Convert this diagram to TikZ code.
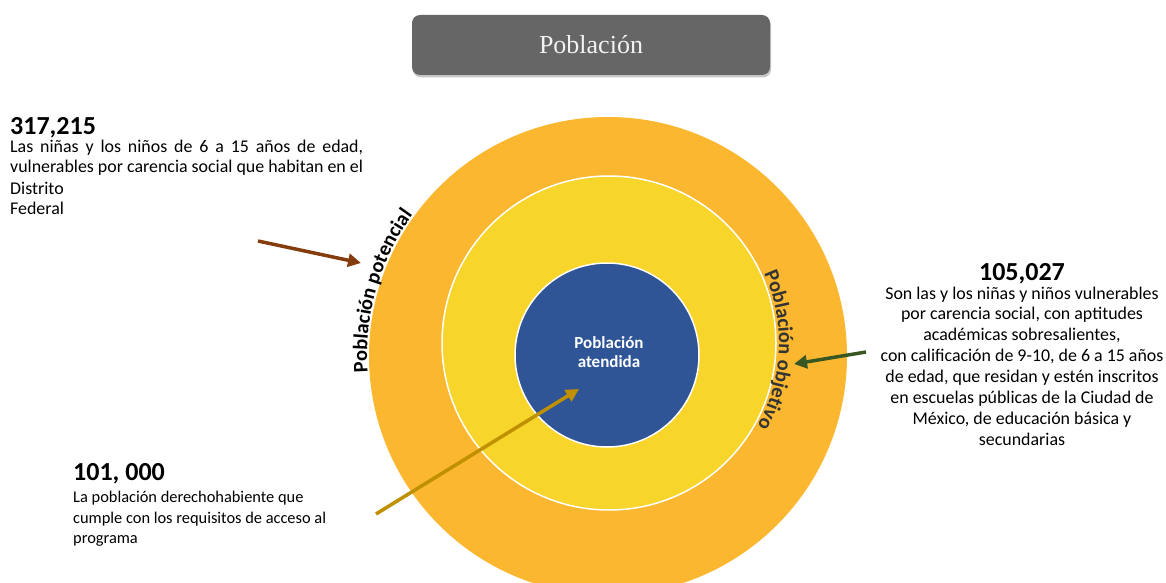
\documentclass[tikz,border=0pt]{standalone}
\usepackage{fontspec}
\setmainfont{Carlito}
\newfontfamily\titlefont{Liberation Serif}
\usetikzlibrary{arrows.meta,shadows,decorations.text}
\definecolor{outerc}{HTML}{FBB730}
\definecolor{midc}{HTML}{F8D52B}
\definecolor{innerc}{HTML}{2F5597}
\definecolor{boxc}{HTML}{666666}
\definecolor{titletxt}{HTML}{F2F2F2}
\definecolor{brownc}{HTML}{843C0C}
\definecolor{greenc}{HTML}{385723}
\definecolor{goldc}{HTML}{BF9000}
\definecolor{objc}{HTML}{333333}
\begin{document}
\begin{tikzpicture}[x=1pt,y=1pt,
  body/.style={inner sep=0pt,anchor=base west,font=\fontsize{17.9}{20}\selectfont},
  bodys/.style={inner sep=0pt,anchor=base west,font=\fontsize{16.4}{20}\selectfont},
  bodyc/.style={inner sep=0pt,anchor=base,font=\fontsize{17.9}{20}\selectfont},
  num/.style={inner sep=0pt,anchor=base west,font=\bfseries\fontsize{26}{30}\selectfont},
  numc/.style={inner sep=0pt,anchor=base,font=\bfseries\fontsize{26}{30}\selectfont},
  ring/.style={circle,inner sep=0pt,draw=white,line width=1.5pt},
  arr/.style={line width=3.5pt,-{Triangle[length=13pt,width=13pt]}},
  titlebox/.style={rounded corners=8pt,fill=boxc,minimum width=358pt,minimum height=60pt,
    drop shadow={shadow xshift=1pt,shadow yshift=-2.5pt,opacity=0.45},
    text=titletxt,font=\titlefont\fontsize{26}{30}\selectfont}]
\useasboundingbox (0,0) rectangle (1166,582);
\begin{scope}
\clip (0,0) rectangle (1166,582);
\node[circle,inner sep=0pt,fill=outerc,minimum size=478pt] (outer) at (608,226) {};
\end{scope}
\node[ring,fill=midc,minimum size=334pt] (mid) at (609,239) {};
\node[ring,fill=innerc,minimum size=184pt] (inner) at (607,227) {};
\node[align=center,text=white,inner sep=0pt,font=\bfseries\fontsize{17}{19}\selectfont] (innerlbl) at (609,230) {Población\\atendida};

% curved labels
\path[decorate,decoration={text along path,text align=center,
  text={|\bfseries\fontsize{20.5}{20.5}\selectfont\color{black}|Población potencial}}]
  (608,226) ++(192:241) arc[start angle=192,end angle=136,radius=241];
\path[decorate,decoration={text along path,text align=center,
  text={|\bfseries\fontsize{20.5}{20.5}\selectfont\color{objc}|Población objetivo}}]
  (609,239) ++(31:170) arc[start angle=31,end angle=-36,radius=170];

% title
\node[titlebox] (title) at (591,537) {Población};

% left block
\node[num] (n1) at (10,447) {317,215};
\node[body] (l1) at (10,429) {\makebox[353pt][s]{Las niñas y los niños de 6 a 15 años de edad,}};
\node[body] (l2) at (10,409) {vulnerables por carencia social que habitan en el};
\node[body] (l3) at (10,388) {Distrito};
\node[body] (l4) at (10,367) {Federal};

% right block
\node[numc] (n2) at (1022,302) {105,027};
\node[bodyc] (r1) at (1022,283) {Son las y los niñas y niños vulnerables};
\node[bodyc] (r2) at (1022,263) {por carencia social, con aptitudes};
\node[bodyc] (r3) at (1022,242) {académicas sobresalientes,};
\node[bodyc] (r4) at (1022,221) {con calificación de 9-10, de 6 a 15 años};
\node[bodyc] (r5) at (1022,200) {de edad, que residan y estén inscritos};
\node[bodyc] (r6) at (1022,179) {en escuelas públicas de la Ciudad de};
\node[bodyc] (r7) at (1022,158) {México, de educación básica y};
\node[bodyc] (r8) at (1022,137) {secundarias};

% bottom block
\node[num] (n3) at (73,102) {101, 000};
\node[bodys] (b1) at (73,80) {La población derechohabiente que};
\node[bodys] (b2) at (73,59) {cumple con los requisitos de acceso al};
\node[bodys] (b3) at (73,39) {programa};

% arrows
\coordinate (brS) at (258,341);
\coordinate (brE) at (361,319);
\draw[arr,brownc] (brS) -- (brE);
\coordinate (grS) at (866,230);
\coordinate (grE) at (794,218);
\draw[arr,greenc] (grS) -- (grE);
\coordinate (goS) at (376,68);
\coordinate (goE) at (579,193);
\draw[arr,goldc] (goS) -- (goE);
\end{tikzpicture}
\end{document}
